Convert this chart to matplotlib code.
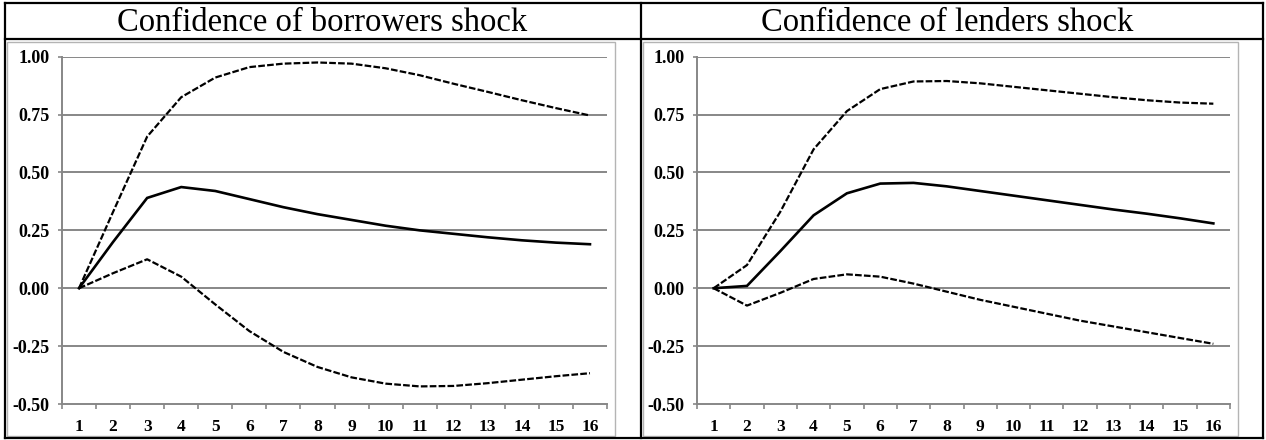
import numpy as np
import matplotlib
matplotlib.use("Agg")
import matplotlib.pyplot as plt
from matplotlib.lines import Line2D
from matplotlib.patches import Rectangle

# periods on the horizontal axis
periods = list(range(1, 17))

# Confidence of borrowers shock
borrow_mid = [0.0, 0.20, 0.39, 0.437, 0.42, 0.385, 0.35, 0.32, 0.295, 0.27, 0.25, 0.235, 0.22, 0.207, 0.197, 0.19]
borrow_up = [0.0, 0.33, 0.655, 0.825, 0.91, 0.955, 0.97, 0.975, 0.97, 0.95, 0.92, 0.883, 0.848, 0.812, 0.778, 0.746]
borrow_lo = [0.0, 0.065, 0.125, 0.05, -0.07, -0.185, -0.275, -0.34, -0.385, -0.412, -0.424, -0.422, -0.41, -0.395, -0.38, -0.367]

# Confidence of lenders shock
lend_mid = [0.0, 0.01, 0.16, 0.315, 0.41, 0.452, 0.455, 0.44, 0.42, 0.40, 0.38, 0.36, 0.34, 0.322, 0.302, 0.28]
lend_up = [0.0, 0.10, 0.33, 0.60, 0.765, 0.86, 0.893, 0.895, 0.885, 0.87, 0.855, 0.84, 0.825, 0.812, 0.802, 0.797]
lend_lo = [0.0, -0.075, -0.02, 0.04, 0.06, 0.05, 0.02, -0.015, -0.05, -0.08, -0.11, -0.14, -0.165, -0.19, -0.215, -0.24]

titles = ["Confidence of borrowers shock", "Confidence of lenders shock"]
yticks = [-0.50, -0.25, 0.00, 0.25, 0.50, 0.75, 1.00]

plt.rcParams['font.family'] = ['Liberation Serif', 'DejaVu Serif']

W, H = 1266, 440
fig = plt.figure(figsize=(W / 100, H / 100), dpi=100)


def fx(px):
    return px / W


def fy(py):
    return 1 - py / H


grid_col = '#878787'

# table borders
blk = dict(color='k', lw=1.6, transform=fig.transFigure, solid_capstyle='projecting')
for x in [4.5, 641, 1262.5]:
    fig.add_artist(Line2D([fx(x), fx(x)], [fy(3.5), fy(437.5)], **blk))
for y in [3.5, 39, 437.5]:
    fig.add_artist(Line2D([fx(4.5), fx(1262.5)], [fy(y), fy(y)], **blk))

# light gray chart boxes
for x0, x1 in [(7.5, 615), (643, 1238)]:
    fig.add_artist(Rectangle((fx(x0), fy(435.5)), fx(x1 - x0), (435.5 - 42.5) / H,
                             transform=fig.transFigure, fill=False,
                             edgecolor='#b4b4b4', lw=1.0))

panels = [
    (62, 607, titles[0], borrow_mid, borrow_up, borrow_lo, 322),
    (697, 1230, titles[1], lend_mid, lend_up, lend_lo, 947),
]

for x0, x1, title, mid, up, lo, tx in panels:
    ax = fig.add_axes([fx(x0), fy(404), fx(x1 - x0), (404 - 56.7) / H])
    fig.text(fx(tx), fy(23), title, ha='center', va='center', fontsize=23.5)

    for yv in yticks[1:]:
        ax.axhline(yv, color=grid_col, lw=1.4, zorder=1)

    ax.plot(periods, mid, color='k', lw=1.9, zorder=3, solid_joinstyle='miter')
    ax.plot(periods, up, color='k', lw=1.6, dashes=(3.0, 1.0), zorder=3)
    ax.plot(periods, lo, color='k', lw=1.6, dashes=(3.0, 1.0), zorder=3)

    ax.set_xlim(0.5, 16.5)
    ax.set_ylim(-0.5, 1.0)
    ax.set_yticks(yticks)
    ax.set_yticklabels(['%.2f' % v for v in yticks], fontweight='bold', fontsize=13)
    ax.set_xticks(periods)
    ax.set_xticklabels([str(p) for p in periods], fontweight='bold', fontsize=12.5)
    ax.set_xticks(np.arange(0.5, 17, 1), minor=True)
    ax.tick_params(axis='x', which='major', length=0, pad=11)
    ax.tick_params(axis='x', which='minor', length=3.5, color=grid_col, width=1.2, direction='out')
    ax.tick_params(axis='y', length=3, color=grid_col, width=1.2, pad=6)

    for s in ['top', 'right']:
        ax.spines[s].set_visible(False)
    for s in ['left', 'bottom']:
        ax.spines[s].set_color(grid_col)
        ax.spines[s].set_linewidth(1.4)
    ax.patch.set_alpha(0)

fig.savefig('out.png', dpi=100)
